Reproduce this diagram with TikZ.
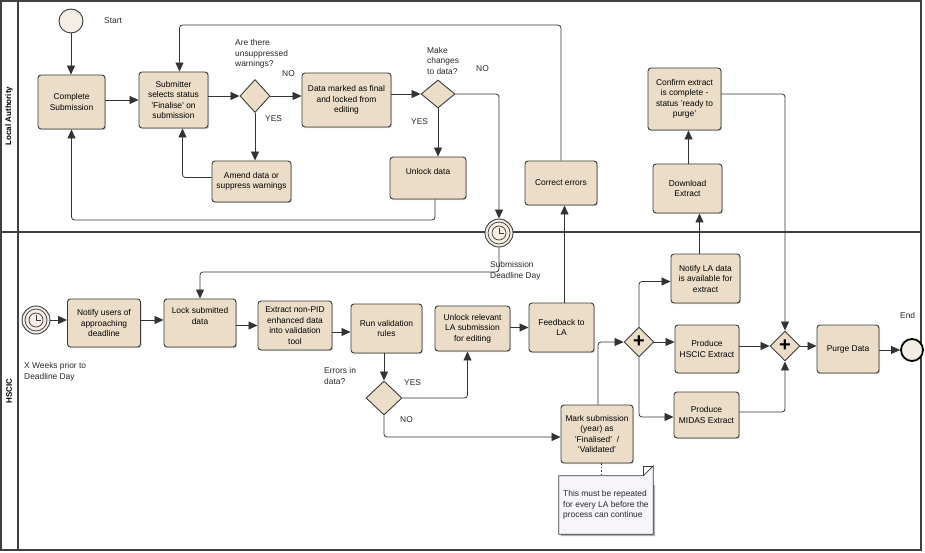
\documentclass[tikz,border=0pt]{standalone}
\usepackage{fontspec}
\setmainfont{Liberation Sans}
\usetikzlibrary{arrows.meta,shapes.geometric,shadows}
\definecolor{taskfill}{HTML}{EBDDC8}
\definecolor{taskedge}{HTML}{3A3A3A}
\definecolor{notefill}{HTML}{F7F5FA}
\begin{document}
\begin{tikzpicture}[x=1pt,y=-1pt,
  font=\fontsize{8.4}{10.5}\selectfont,
  task/.style={draw=taskedge,line width=0.9pt,rounded corners=3pt,fill=taskfill,align=center,inner sep=1pt,
     drop shadow={shadow xshift=1.2pt,shadow yshift=-1.2pt,opacity=0.35}},
  gw/.style={diamond,draw=taskedge,line width=0.9pt,fill=taskfill,inner sep=0pt,minimum width=32pt,minimum height=32pt},
  arr/.style={draw=black!80,line width=0.8pt,-{Triangle[length=9pt,width=8pt]},rounded corners=3pt},
  lbl/.style={align=left,anchor=west,inner sep=0pt,text=black!85},
  lane/.style={draw=black!75,line width=1.2pt}]
\useasboundingbox (0,0) rectangle (925,553);
% pool frame
\draw[lane] (1,1) rectangle (921,550);
\draw[lane] (18,1) -- (18,550);
\draw[lane] (1,232) -- (921,232);
\node[rotate=90,font=\fontsize{8}{10}\selectfont\bfseries] (laLab) at (9,116) {Local Authority};
\node[rotate=90,font=\fontsize{8}{10}\selectfont\bfseries] (hsLab) at (9,391) {HSCIC};
% helper coordinates
\coordinate (ytop) at (0,25);
\coordinate (ybot) at (0,220);
\coordinate (ytm) at (0,272);
% ---- Local Authority lane
\node[circle,draw=taskedge,line width=0.9pt,fill=taskfill!50,minimum size=24pt,inner sep=0pt] (start) at (71,21) {};
\node[lbl] (startL) at (104,21) {Start};
\node[task,minimum width=67pt,minimum height=54pt] (cs) at (71.5,102) {Complete\\Submission};
\node[task,minimum width=69pt,minimum height=56pt] (sub) at (173.5,100) {Submitter\\selects status\\'Finalise' on\\submission};
\coordinate (subtop) at ([xshift=6]sub.north);
\node[gw,minimum width=30pt,minimum height=33pt] (d1) at (255,96) {};
\node[lbl] (d1q) at (235,54) {Are there\\unsuppressed\\warnings?};
\node[lbl] (d1no) at (282,74) {NO};
\node[lbl] (d1yes) at (265,119) {YES};
\node[task,minimum width=89pt,minimum height=54pt] (dm) at (346.5,100) {Data marked as final\\and locked from\\editing};
\node[gw,minimum width=34pt,minimum height=28pt] (d2) at (438,94) {};
\node[lbl] (d2q) at (427,61) {Make\\changes\\to data?};
\node[lbl] (d2no) at (476,69) {NO};
\node[lbl] (d2yes) at (411,122) {YES};
\node[task,minimum width=79pt,minimum height=41pt] (am) at (251.5,181.5) {Amend data or\\suppress warnings};
\node[task,minimum width=76pt,minimum height=42pt,text depth=14pt] (ud) at (428,178) {Unlock data};
\node[task,minimum width=72pt,minimum height=44pt] (ce) at (561,183) {Correct errors};
\node[task,minimum width=69pt,minimum height=49pt] (dl) at (687.5,188.5) {Download\\Extract};
\node[task,minimum width=73pt,minimum height=62pt] (ck) at (684.5,99) {Confirm extract\\is complete -\\status 'ready to\\purge'};
% timer intermediate event
\node[circle,draw=taskedge,line width=0.9pt,fill=taskfill!50,minimum size=28pt,inner sep=0pt] (tm) at (499,233) {};
\draw[taskedge,line width=0.7pt] (tm.center) circle (11pt) (tm.center) circle (7pt);
\draw[taskedge,line width=0.7pt] (tm.center) -- ++(0,-5) (tm.center) -- ++(5,0);
\node[lbl] (tmL) at (490,271) {Submission\\Deadline Day};
% ---- HSCIC lane
\node[circle,draw=taskedge,line width=0.9pt,fill=taskfill!50,minimum size=28pt,inner sep=0pt] (ts) at (36,320) {};
\draw[taskedge,line width=0.7pt] (ts.center) circle (11pt) (ts.center) circle (7pt);
\draw[taskedge,line width=0.7pt] (ts.center) -- ++(0,-5) (ts.center) -- ++(5,0);
\node[lbl] (tsL) at (24,372) {X Weeks prior to\\Deadline Day};
\node[task,minimum width=73pt,minimum height=48pt] (nu) at (104,323) {Notify users of\\approaching\\deadline};
\node[task,minimum width=72pt,minimum height=48pt,text depth=14pt] (lk) at (200,323) {Lock submitted\\data};
\node[task,minimum width=74pt,minimum height=49pt] (ex) at (295,325.5) {Extract non-PID\\enhanced data\\into validation\\tool};
\node[task,minimum width=71pt,minimum height=49pt] (rv) at (386.5,328.5) {Run validation\\rules};
\node[task,minimum width=75pt,minimum height=45pt] (ur) at (472.5,328.5) {Unlock relevant\\LA submission\\for editing};
\node[task,minimum width=65pt,minimum height=49pt] (fb) at (561.5,327.5) {Feedback to\\LA};
\node[gw,minimum width=36pt,minimum height=34pt] (d3) at (384,398) {};
\node[lbl] (d3q) at (324,376) {Errors in\\data?};
\node[lbl] (d3yes) at (404,383) {YES};
\node[lbl] (d3no) at (400,420) {NO};
\node[task,minimum width=72pt,minimum height=58pt] (mk) at (597,434) {Mark submission\\(year) as\\'Finalised'~~/\\'Validated'};
\node[task,minimum width=69pt,minimum height=49pt] (nl) at (705.5,278.5) {Notify LA data\\is available for\\extract};
\node[gw,minimum width=30pt,minimum height=30pt,font=\fontsize{20}{20}\selectfont\bfseries] (g1) at (639,342) {+};
\node[task,minimum width=64pt,minimum height=48pt] (ph) at (707,349) {Produce\\HSCIC Extract};
\node[task,minimum width=65pt,minimum height=46pt] (pm) at (706.5,415) {Produce\\MIDAS Extract};
\node[gw,minimum width=30pt,minimum height=30pt,font=\fontsize{20}{20}\selectfont\bfseries] (g2) at (785,346) {+};
\node[task,minimum width=62pt,minimum height=48pt] (pd) at (848,349) {Purge Data};
\node[circle,draw=black,line width=1.8pt,fill=taskfill!50,minimum size=22pt,inner sep=0pt] (en) at (912,350) {};
\node[lbl] (enL) at (900,315) {End};
% note
\node[minimum width=94pt,minimum height=58pt,inner sep=0pt] (nt) at (606,505) {};
\fill[black!30] ([shift={(2,2)}]nt.north west) -- ([shift={(-8,2)}]nt.north east) -- ([shift={(2,10)}]nt.north east) -- ([shift={(2,2)}]nt.south east) -- ([shift={(2,2)}]nt.south west) -- cycle;
\draw[draw=taskedge,line width=0.7pt,fill=notefill] (nt.north west) -- ([xshift=-10]nt.north east) -- ([yshift=10]nt.north east) -- (nt.south east) -- (nt.south west) -- cycle;
\draw[draw=taskedge,line width=0.6pt] ([xshift=-10]nt.north east) -- ([xshift=-10,yshift=10]nt.north east) -- ([yshift=10]nt.north east);
\node[lbl] (ntT) at (563,505) {This must be repeated\\for every LA before the\\process can continue};
\draw[black!80,line width=0.7pt,dash pattern=on 1.5pt off 2pt] ([xshift=4]mk.south) -- ([xshift=4]mk.south|-nt.north);
% ---- connectors, Local Authority lane
\draw[arr] (start) -- (start|-cs.north);
\draw[arr] (cs.east|-sub) -- (sub.west);
\draw[arr] (sub.east|-d1) -- (d1.west);
\draw[arr] (d1.east) -- (dm.west|-d1);
\draw[arr] (d1.south) -- (am.north-|d1);
\draw[arr] ([yshift=4]am.west) -| ([xshift=9]sub.south);
\draw[arr] (dm.east|-d2) -- (d2.west);
\draw[arr] (d2.south) -- (ud.north-|d2);
\draw[arr] (d2.east) -| (tm.north);
\draw[arr] ([xshift=7]ud.south) |- (ybot-|cs.south) -- (cs.south);
\draw[arr] (ce.north) |- (ytop-|subtop) -- (subtop);
\draw[arr] (ck.east|-0,94) -| (g2.north);
\draw[arr] ([xshift=1]dl.north) -- ([xshift=1]dl.north|-ck.south);
% ---- connectors, HSCIC lane
\draw[arr] (ts.east) -- (nu.west|-ts);
\draw[arr] (nu.east|-ts) -- (lk.west|-ts);
\draw[arr] (lk.east|-ex) -- (ex.west);
\draw[arr] (ex.east|-0,332) -- (rv.west|-0,332);
\draw[arr] (ur.east|-fb) -- (fb.west);
\draw[arr] (tm.south) |- (ytm-|lk.north) -- (lk.north);
\draw[arr] (rv.south-|d3) -- (d3.north);
\draw[arr] (d3.east) -| ([xshift=-5]ur.south);
\draw[arr] (d3.south) |- ([yshift=-3]mk.west);
\draw[arr] ([xshift=3]fb.north) -- ([xshift=3]fb.north|-ce.south);
\draw[arr] ([xshift=1]mk.north) |- (g1.west);
\draw[arr] (g1.north) |- ([yshift=-3]nl.west);
\draw[arr] (g1.east) -- (ph.west|-g1);
\draw[arr] (g1.south) |- ([yshift=-2]pm.west);
\draw[arr] ([xshift=-6]nl.north) -- ([xshift=-6]nl.north|-dl.south);
\draw[arr] (ph.east|-g2) -- (g2.west);
\draw[arr] ([yshift=3]pm.east) -| (g2.south);
\draw[arr] (g2.east) -- (pd.west|-g2);
\draw[arr] (pd.east|-en) -- (en.west);
\end{tikzpicture}
\end{document}
